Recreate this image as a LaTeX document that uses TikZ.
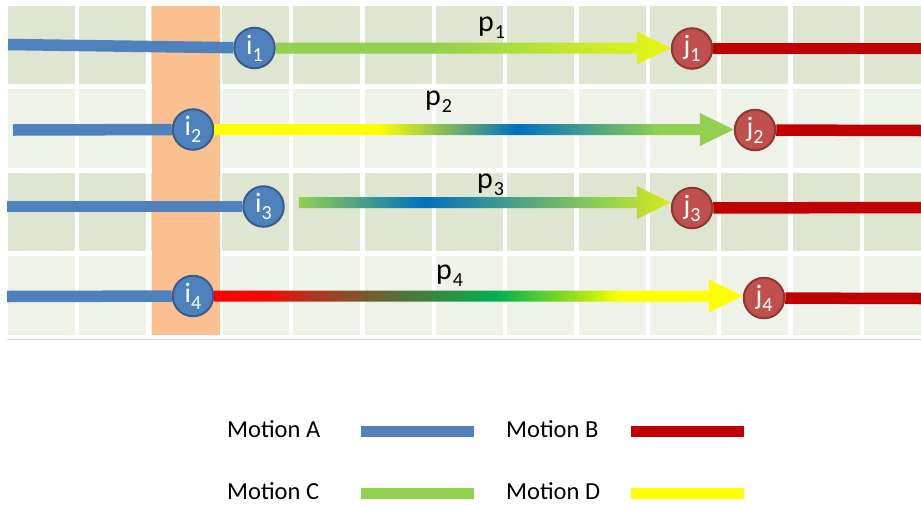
\documentclass[tikz,border=0pt]{standalone}
\usepackage{fontspec}
\setmainfont{Carlito}
\usepackage{tikz}
\usetikzlibrary{calc, positioning}

\definecolor{motionA}{HTML}{4F81BD}
\definecolor{motionB}{HTML}{C00000}
\definecolor{motionC}{HTML}{92D050}
\definecolor{motionD}{HTML}{FFFF00}
\definecolor{rowdark}{HTML}{DEE6D2}
\definecolor{rowlight}{HTML}{EFF2E9}
\definecolor{slotfill}{HTML}{FAC090}
\definecolor{sepgray}{HTML}{D9D9D9}
\definecolor{startedge}{HTML}{385D8A}
\definecolor{endfill}{HTML}{C0504D}
\definecolor{endedge}{HTML}{8C3836}
\definecolor{deepblue}{HTML}{0070C0}
\definecolor{limeend}{RGB}{232,246,20}
\definecolor{limeendb}{RGB}{215,233,30}
\definecolor{flame}{RGB}{240,10,5}
\definecolor{rust}{RGB}{180,50,30}
\definecolor{mudgreen}{RGB}{110,95,48}
\definecolor{leafgreen}{HTML}{00B050}
\definecolor{lemon}{RGB}{170,230,20}

%% colour runs along the four paths (box of the path = 25bp..75bp)
\pgfdeclarehorizontalshading{pathone}{100bp}{color(0bp)=(motionC); color(25bp)=(motionC);
  color(45bp)=(motionC); color(75bp)=(limeend); color(100bp)=(limeend)}
\pgfdeclarehorizontalshading{pathtwo}{100bp}{color(0bp)=(motionD); color(25bp)=(motionD);
  color(40.8bp)=(motionD); color(54.1bp)=(deepblue); color(67.9bp)=(motionC);
  color(100bp)=(motionC)}
\pgfdeclarehorizontalshading{paththree}{100bp}{color(0bp)=(motionC); color(25bp)=(motionC);
  color(41.8bp)=(deepblue); color(66bp)=(motionC); color(75bp)=(limeendb);
  color(100bp)=(limeendb)}
\pgfdeclarehorizontalshading{pathfour}{100bp}{color(0bp)=(red); color(25bp)=(red);
  color(30bp)=(flame); color(34bp)=(rust); color(40bp)=(mudgreen);
  color(51.7bp)=(leafgreen); color(60bp)=(lemon); color(63.3bp)=(motionD);
  color(100bp)=(motionD)}

%% subscript index
\newcommand{\idxsub}[1]{\raisebox{-7pt}{\fontsize{20}{20}\selectfont #1}}

%% shaded arrow from #1 to the x of #2
\newcommand{\motionarrow}[3]{%
  \shade[shading=#3] let \p1=(#1), \p2=(#2) in
    (\x1,\y1+5.5pt) -- (\x2-34pt,\y1+5.5pt) -- (\x2-34pt,\y1+16.5pt)
    -- (\x2,\y1) -- (\x2-34pt,\y1-16.5pt) -- (\x2-34pt,\y1-5.5pt)
    -- (\x1,\y1-5.5pt) -- cycle;}

\tikzset{
  %% Motion track
  track/.style={draw=#1, line width=11.5pt},
  %% Path end points
  startpt/.style={
    circle, fill=motionA, draw=startedge, line width=2pt,
    minimum size=40.5pt, inner sep=0pt, text=white,
    font=\fontsize{28}{28}\selectfont
  },
  endpt/.style={
    circle, fill=endfill, draw=endedge, line width=2pt,
    minimum size=40.5pt, inner sep=0pt, text=white,
    font=\fontsize{28}{28}\selectfont
  },
  %% Path label
  plabel/.style={anchor=base west, inner sep=0pt,
                 font=\fontsize{30}{30}\selectfont},
  %% Legend
  legtext/.style={anchor=base west, inner sep=0pt,
                  font=\fontsize{24.5}{24.5}\selectfont},
  swatch/.style={rectangle, fill=#1, anchor=west, inner sep=0pt,
                 minimum width=113pt, minimum height=11pt},
}

\begin{document}
\begin{tikzpicture}[x=1pt, y=-1pt]

  \clip (0,0) rectangle (921,504);
  \fill[white] (0,0) rectangle (921,504);

  %% Time grid
  \foreach \r/\rowcol in {0/rowdark,1/rowlight,2/rowdark,3/rowlight}
    \foreach \c in {0,...,12}
      \fill[\rowcol] ({8+71.33*\c},{5.7+83.5*\r}) rectangle ++(67,78.7);
  \fill[slotfill] (151.7,5.7) rectangle (220,334.6);
  \draw[sepgray, line width=1pt] (7,339) -- (921,339);

  %% End points
  \node[startpt] (i1) at (254.5,48)  {i\idxsub{1}};
  \node[startpt] (i2) at (193,129.5) {i\idxsub{2}};
  \node[startpt] (i3) at (263.5,206.5) {i\idxsub{3}};
  \node[startpt] (i4) at (193,296)   {i\idxsub{4}};

  \node[endpt] (j1) at (692,48.5) {j\idxsub{1}};
  \node[endpt] (j2) at (755,130)  {j\idxsub{2}};
  \node[endpt] (j3) at (692,208)  {j\idxsub{3}};
  \node[endpt] (j4) at (764,298)  {j\idxsub{4}};

  %% Track ends at the borders
  \coordinate (a1) at (8,44.5);
  \coordinate (a2) at (13,130);
  \coordinate (a3) at (7,206.5);
  \coordinate (a4) at (7,296.5);
  \coordinate (b1) at (921,48.5);
  \coordinate (b2) at (921,130.5);
  \coordinate (b3) at (921,207.5);
  \coordinate (b4) at (921,298.5);
  \coordinate (s3) at ([xshift=14pt, yshift=4pt]i3.east);

  %% Motion A / Motion B tracks
  \draw[track=motionA] (a1) -- (i1);
  \draw[track=motionA] (a2) -- (i2);
  \draw[track=motionA] (a3) -- (i3);
  \draw[track=motionA] (a4) -- (i4);
  \draw[track=motionB] (j1) -- (b1);
  \draw[track=motionB] (j2) -- (b2);
  \draw[track=motionB] (j3) -- (b3);
  \draw[track=motionB] (j4) -- (b4);

  %% Paths
  \motionarrow{i1.east}{j1.west}{pathone}
  \motionarrow{i2.east}{j2.west}{pathtwo}
  \motionarrow{s3}{j3.west}{paththree}
  \motionarrow{i4.east}{j4.west}{pathfour}

  \node[plabel] (p1) at (478,31)  {p\kern1pt\idxsub{1}};
  \node[plabel] (p2) at (425,105) {p\kern1pt\idxsub{2}};
  \node[plabel] (p3) at (477,188) {p\kern1pt\idxsub{3}};
  \node[plabel] (p4) at (436,279) {p\kern1pt\idxsub{4}};

  %% Legend
  \node[legtext] (legA) at (227,437) {Motion A};
  \node[legtext] (legB) at (506,437) {Motion B};
  \node[legtext] (legC) at (227,499) {Motion C};
  \node[legtext] (legD) at (506,499) {Motion D};
  \node[swatch=motionA] (keyA) at (361,431.5) {};
  \node[swatch=motionB] (keyB) at (631,431.5) {};
  \node[swatch=motionC] (keyC) at (361,493.5) {};
  \node[swatch=motionD] (keyD) at (631,493.5) {};

\end{tikzpicture}
\end{document}
